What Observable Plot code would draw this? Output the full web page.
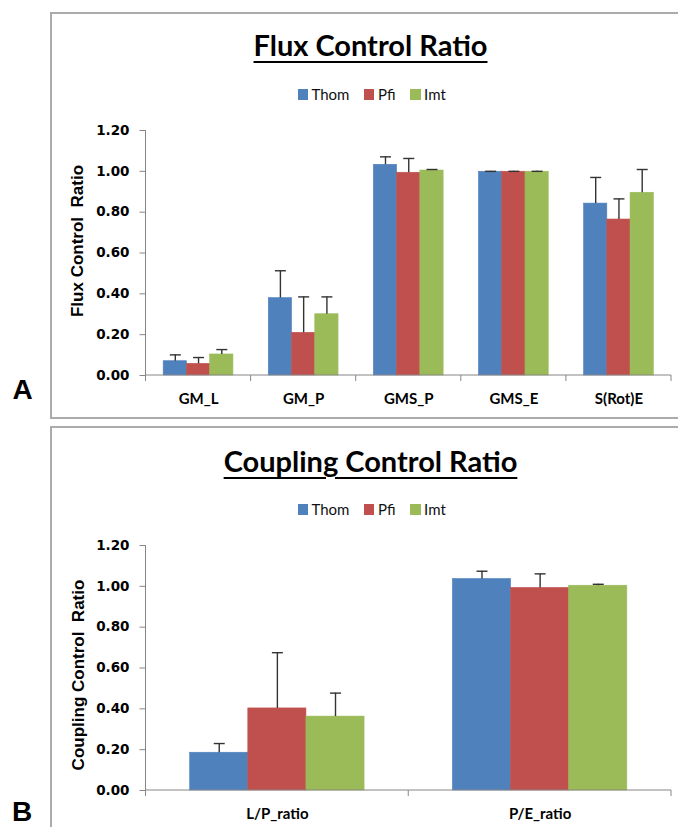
<!DOCTYPE html>
<html>
<head>
<meta charset="utf-8">
<script src="https://cdn.jsdelivr.net/npm/d3@7"></script>
<script src="https://cdn.jsdelivr.net/npm/@observablehq/plot@0.6"></script>
<style>
  body { margin: 0; background: #fff; }
  #page { position: relative; width: 678px; height: 827px; overflow: hidden; background: #fff; }
  .panel { position: absolute; box-sizing: border-box; border: 2px solid #ababab; }
  .title { position: absolute; left: 0; width: 741px; text-align: center; font-family: Lato, sans-serif; font-weight: bold; font-size: 29px; line-height: 1; color: #000; }
  .title span { text-decoration: underline; text-decoration-thickness: 2px; text-underline-offset: 5px; }
  .legend { position: absolute; display: flex; align-items: center; font-family: Lato, sans-serif; font-size: 15px; line-height: 1; color: #111; }
  .legend .item { display: flex; align-items: center; margin-right: 14.5px; }
  .legend .sw { width: 10.5px; height: 10.5px; margin-right: 3.5px; }
  .ytitle { position: absolute; font-family: "Liberation Sans", Arial, sans-serif; font-weight: bold; font-size: 17px; line-height: 1; white-space: pre; color: #000; transform: translate(-50%, -50%) rotate(-90deg); }
  .letter { position: absolute; font-family: "Liberation Sans", Arial, sans-serif; font-weight: bold; font-size: 28px; line-height: 0.75; color: #000; }
</style>
</head>
<body>
<div id="page"></div>
<script>
// ---- data ----
const series = ["Thom", "Pfi", "Imt"];
const seriesColors = ["#4F81BD", "#C0504D", "#9BBB59"];
const yTicks = [0, 0.2, 0.4, 0.6, 0.8, 1.0, 1.2];

const fluxCategories = ["GM_L", "GM_P", "GMS_P", "GMS_E", "S(Rot)E"];
const fluxThom = [0.070, 0.379, 1.032, 0.998, 0.842];
const fluxPfi  = [0.057, 0.209, 0.993, 0.998, 0.764];
const fluxImt  = [0.103, 0.300, 1.004, 0.998, 0.895];
const fluxThomUpper = [0.101, 0.513, 1.071, 1.000, 0.970];
const fluxPfiUpper  = [0.088, 0.385, 1.063, 1.000, 0.865];
const fluxImtUpper  = [0.127, 0.385, 1.009, 1.000, 1.009];

const couplingCategories = ["L/P_ratio", "P/E_ratio"];
const couplingThom = [0.185, 1.036];
const couplingPfi  = [0.402, 0.992];
const couplingImt  = [0.362, 1.003];
const couplingThomUpper = [0.230, 1.074];
const couplingPfiUpper  = [0.675, 1.061];
const couplingImtUpper  = [0.477, 1.010];

// ---- helpers ----
const axisColor = "#868686";
const errColor = "#333333";

const capSymbol = {
  draw(context, size) {
    const r = Math.sqrt(size / Math.PI);
    context.moveTo(-r, 0);
    context.lineTo(r, 0);
  }
};

function axisLines(cats, yMax) {
  return Plot.ruleY(cats, {
    fx: d => d,
    y: 0,
    render(index, scales, values, dimensions) {
      const i = cats.indexOf(cats[index[0]]);
      const xr = scales.x && scales.x.range ? scales.x.range() : [dimensions.marginLeft, dimensions.width - dimensions.marginRight];
      const [x0, x1] = xr;
      const y0 = scales.y(0), yTop = scales.y(yMax);
      const g = d3.create("svg:g").attr("stroke", axisColor).attr("stroke-width", 1).attr("fill", "none");
      g.append("line").attr("x1", x0).attr("x2", x1).attr("y1", y0).attr("y2", y0);
      g.append("line").attr("x1", x0).attr("x2", x0).attr("y1", y0).attr("y2", y0 + 6);
      if (i === cats.length - 1) g.append("line").attr("x1", x1).attr("x2", x1).attr("y1", y0).attr("y2", y0 + 6);
      if (i === 0) g.append("line").attr("x1", x0).attr("x2", x0).attr("y1", yTop).attr("y2", y0);
      return g.node();
    }
  });
}

function chart(cats, values, uppers) {
  const data = series.flatMap((s, j) => cats.map((c, i) => ({cat: c, series: s, value: values[j][i], upper: uppers[j][i]})));
  return Plot.plot({
    width: 678,
    height: 300,
    marginLeft: 145.5,
    marginRight: 7,
    marginTop: 20,
    marginBottom: 35,
    style: {background: "transparent", overflow: "visible"},
    fx: {domain: cats, padding: 0, round: false, label: null},
    x: {domain: series, paddingInner: 0, paddingOuter: 0.76, round: false, axis: null},
    y: {domain: [0, 1.2], label: null},
    color: {domain: series, range: seriesColors},
    marks: [
      Plot.barY(data, {fx: "cat", x: "series", y: "value", fill: "series", stroke: "series", strokeWidth: 0.6}),
      axisLines(cats, 1.2),
      Plot.ruleX(data, {fx: "cat", x: "series", y1: "value", y2: "upper", stroke: errColor, strokeWidth: 1.4}),
      Plot.dot(data, {fx: "cat", x: "series", y: "upper", symbol: capSymbol, r: 5.5, stroke: errColor, strokeWidth: 1.4, fill: "none"}),
      Plot.axisY({ticks: yTicks, tickFormat: d3.format(".2f"), tickSize: 6, tickPadding: 10.5, stroke: axisColor, fill: "#000",
                  fontFamily: "DejaVu Sans", fontSize: 13.5, fontWeight: "bold", label: null}),
      Plot.axisFx({anchor: "bottom", tickSize: 0, tickPadding: 18, fill: "#000",
                   fontFamily: "Lato", fontSize: 15, fontWeight: "bold", label: null})
    ]
  });
}

// ---- layout ----
const page = document.getElementById("page");

function addDiv(cls, styles, html) {
  const d = document.createElement("div");
  d.className = cls;
  Object.assign(d.style, styles);
  if (html != null) d.innerHTML = html;
  page.appendChild(d);
  return d;
}

function legend(top) {
  const d = addDiv("legend", {left: "297.5px", top: top + "px"});
  series.forEach((s, j) => {
    const it = document.createElement("div");
    it.className = "item";
    const sw = document.createElement("div");
    sw.className = "sw";
    sw.style.background = seriesColors[j];
    const t = document.createElement("span");
    t.textContent = s;
    it.appendChild(sw); it.appendChild(t);
    d.appendChild(it);
  });
}

function place(svg, top) {
  svg.style.position = "absolute";
  svg.style.left = "0px";
  svg.style.top = top + "px";
  page.appendChild(svg);
}

// Panel A
addDiv("panel", {left: "50px", top: "12px", width: "640px", height: "407px"});
addDiv("title", {top: "29.5px"}, "<span>Flux Control Ratio</span>");
legend(87);
addDiv("ytitle", {left: "77px", top: "240.5px"}, "Flux Control  Ratio");
place(chart(fluxCategories, [fluxThom, fluxPfi, fluxImt], [fluxThomUpper, fluxPfiUpper, fluxImtUpper]), 110);
addDiv("letter", {left: "12.5px", top: "378.8px"}, "A");

// Panel B
addDiv("panel", {left: "50px", top: "426px", width: "640px", height: "420px"});
addDiv("title", {top: "445.5px"}, "<span>Coupling Control Ratio</span>");
legend(502);
addDiv("ytitle", {left: "77.5px", top: "674.5px"}, "Coupling Control  Ratio");
place(chart(couplingCategories, [couplingThom, couplingPfi, couplingImt], [couplingThomUpper, couplingPfiUpper, couplingImtUpper]), 525);
addDiv("letter", {left: "12px", top: "800.5px"}, "B");
</script>
</body>
</html>
